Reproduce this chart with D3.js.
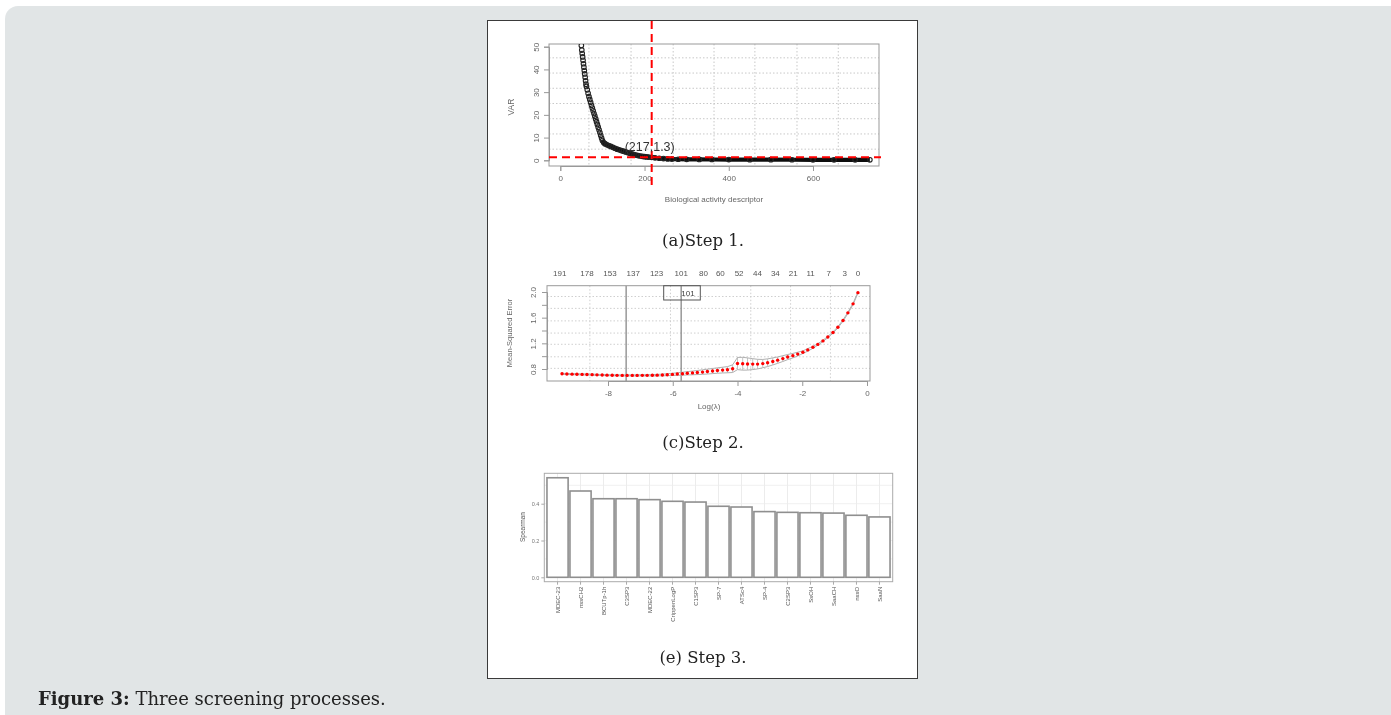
<!DOCTYPE html>
<html><head><meta charset="utf-8">
<script src="https://cdn.jsdelivr.net/npm/d3@7/dist/d3.min.js"></script>
<style>body{margin:0;background:#fff;}svg{display:block;}</style>
</head><body>
<svg id="chart" width="1391" height="715"></svg>
<script>
// ---------- Panel (a): VAR vs descriptor index ----------
const varIndex = [50,51,52,53,54,55,56,57,58,59,60,61,62,64,66,68,70,72,74,76,78,80,82,84,86,88,90,92,94,96,98,100,103,106,110,115,120,125,130,135,140,145,150,155,160,165,170,175,180,185,190,195,200,205,210,217,225,235,245,255,265,280,300,330,360,400,450,500,550,600,650,700,735];
const varValues = [50.5,48.5,47,45.5,44,42.5,41,39.5,38,36.5,35,33.5,32.5,31,29.5,28,26.8,25.5,24.2,23,21.8,20.6,19.4,18.2,17,15.8,14.6,13.4,12.2,11,9.8,8.7,7.8,7.3,6.9,6.5,6.1,5.7,5.3,4.9,4.6,4.3,4.0,3.7,3.4,3.1,2.8,2.55,2.3,2.1,1.9,1.75,1.6,1.5,1.4,1.3,1.1,0.9,0.75,0.62,0.55,0.47,0.42,0.38,0.35,0.32,0.29,0.27,0.25,0.23,0.21,0.2,0.19];
const varXTicks = [0,200,400,600];
const varYTicks = [0,10,20,30,40,50];
const varXGrid = [68,168,268,365,462,562,660];
const varYGrid = [4.9,11.6,18.3,25,31.7,38.4,45.1];
const cutIndex = 217, cutVar = 1.3;
const cutLabel = "(217,1.3)";

// ---------- Panel (c): cv.glmnet curve ----------
const logLambda = [-9.42,-9.27,-9.11,-8.96,-8.80,-8.65,-8.49,-8.34,-8.18,-8.03,-7.87,-7.72,-7.56,-7.41,-7.25,-7.10,-6.94,-6.79,-6.63,-6.48,-6.32,-6.17,-6.01,-5.86,-5.70,-5.55,-5.39,-5.24,-5.08,-4.93,-4.77,-4.62,-4.46,-4.31,-4.15,-4.00,-3.84,-3.69,-3.53,-3.38,-3.22,-3.07,-2.91,-2.76,-2.60,-2.45,-2.29,-2.14,-1.98,-1.83,-1.67,-1.52,-1.36,-1.21,-1.05,-0.90,-0.74,-0.59,-0.43,-0.28];
const mseValues = [0.725,0.722,0.720,0.718,0.716,0.714,0.712,0.709,0.706,0.704,0.702,0.701,0.700,0.700,0.700,0.700,0.701,0.701,0.702,0.704,0.707,0.711,0.716,0.721,0.727,0.733,0.739,0.745,0.752,0.760,0.768,0.776,0.783,0.789,0.805,0.885,0.882,0.878,0.876,0.876,0.884,0.898,0.918,0.938,0.962,0.986,1.008,1.032,1.062,1.098,1.138,1.183,1.238,1.298,1.368,1.45,1.555,1.675,1.815,1.99];
const mseSd = [0.008,0.008,0.008,0.008,0.008,0.008,0.008,0.008,0.008,0.008,0.008,0.008,0.008,0.008,0.008,0.009,0.009,0.010,0.011,0.012,0.013,0.015,0.018,0.020,0.023,0.026,0.029,0.032,0.035,0.038,0.040,0.042,0.045,0.048,0.060,0.095,0.10,0.095,0.085,0.075,0.065,0.06,0.055,0.05,0.045,0.04,0.035,0.03,0.02,0.02,0.015,0.012,0.01,0.01,0.01,0.01,0.01,0.01,0.01,0.01];
const nzLabels = ["191","178","153","137","123","101","80","60","52","44","34","21","11","7","3","0"];
const nzPositions = [-9.49,-8.65,-7.94,-7.22,-6.50,-5.74,-5.05,-4.53,-3.95,-3.38,-2.83,-2.28,-1.74,-1.18,-0.69,-0.28];
const mseXTicks = [-8,-6,-4,-2,0];
const mseYTicks = [0.8,1.0,1.2,1.4,1.6,1.8,2.0];
const mseYLabels = [0.8,1.2,1.6,2.0];
const mseXGrid = [-8.56,-6.07,-3.59,-2.36,-1.13];
const mseYGrid = [0.81,0.99,1.185,1.36,1.55,1.745,1.93];
const lambdaLines = [-7.44,-5.74];
const legendLabel = "101";

// ---------- Panel (e): Spearman bars ----------
const featureNames = ["MDEC-23","nssCH2","BCUTp-1h","C3SP3","MDEC-22","CrippenLogP","C1SP3","SP-7","ATSc4","SP-4","C2SP3","SsOH","SaaCH","nssO","SaaN"];
const spearmanValues = [0.541,0.469,0.427,0.427,0.422,0.413,0.409,0.386,0.382,0.357,0.353,0.351,0.349,0.337,0.328];
const spearmanTicks = [0.0,0.2,0.4];
const spearmanGrid = [0.1,0.3,0.5];

const captions = ["(a)Step 1.","(c)Step 2.","(e) Step 3."];

const svg = d3.select("#chart");
const defs = svg.append("defs");
defs.append("filter").attr("id","soft").append("feGaussianBlur").attr("stdDeviation",0.45);

// background panel
svg.append("rect").attr("x",5).attr("y",6).attr("width",1400).attr("height",730).attr("rx",13).attr("fill","#e1e5e6");
// white figure box
svg.append("rect").attr("x",487.5).attr("y",20.5).attr("width",430).attr("height",658).attr("fill","#fff").attr("stroke","#3a3a3a").attr("stroke-width",1);

const axisFont = "Liberation Sans, Arial, sans-serif";
const g = svg.append("g").attr("filter","url(#soft)");

// ===== Panel (a) =====
{
  const L=549,R=879,T=44,B=166;
  const x = d3.scaleLinear().domain([0,600]).range([560.3,813]);
  const y = d3.scaleLinear().domain([0,50]).range([160.3,46.7]);
  const p = g.append("g");
  defs.append("clipPath").attr("id","clipA").append("rect").attr("x",L).attr("y",T).attr("width",R-L).attr("height",B-T);
  // grid
  p.selectAll(".gx").data(varXGrid).join("line").attr("x1",d=>x(d)).attr("x2",d=>x(d)).attr("y1",T).attr("y2",B).attr("stroke","#c8c8c8").attr("stroke-dasharray","1.5,2");
  p.selectAll(".gy").data(varYGrid).join("line").attr("x1",L).attr("x2",R).attr("y1",d=>y(d)).attr("y2",d=>y(d)).attr("stroke","#c8c8c8").attr("stroke-dasharray","1.5,2");
  // box
  p.append("rect").attr("x",L).attr("y",T).attr("width",R-L).attr("height",B-T).attr("fill","none").attr("stroke","#999").attr("stroke-width",1);
  // axes
  const xa = p.append("g").attr("transform",`translate(0,${B})`).call(d3.axisBottom(x).tickValues(varXTicks).tickSize(5).tickPadding(4));
  const ya = p.append("g").attr("transform",`translate(${L},0)`).call(d3.axisLeft(y).tickValues(varYTicks).tickSize(5).tickPadding(3));
  [xa,ya].forEach(a=>{a.select(".domain").attr("stroke","#999");a.selectAll(".tick line").attr("stroke","#999");a.selectAll("text").attr("fill","#666").attr("font-size",8).attr("font-family",axisFont);});
  ya.selectAll(".tick text").attr("transform",function(){return "rotate(-90)";}).attr("text-anchor","middle").attr("x",0).attr("dy",0).attr("y",-10);
  p.append("text").attr("x",714).attr("y",202).attr("text-anchor","middle").attr("font-size",8).attr("fill","#666").attr("font-family",axisFont).text("Biological activity descriptor");
  p.append("text").attr("transform","translate(514,107) rotate(-90)").attr("text-anchor","middle").attr("font-size",8.5).attr("fill","#666").attr("font-family",axisFont).text("VAR");
  // data
  const data = varIndex.map((d,i)=>({x:d,v:varValues[i]}));
  const pc = p.append("g").attr("clip-path","url(#clipA)");
  pc.append("path").datum(data.filter(d=>d.x>=100)).attr("d",d3.line().x(d=>x(d.x)).y(d=>y(d.v))).attr("fill","none").attr("stroke","#111").attr("stroke-width",4.2).attr("stroke-linejoin","round");
  pc.selectAll("circle").data(data).join("circle").attr("cx",d=>x(d.x)).attr("cy",d=>y(d.v)).attr("r",2.3).attr("fill","none").attr("stroke","#222").attr("stroke-width",1.1);
  // cutoff lines
  p.append("line").attr("x1",L).attr("x2",R+2).attr("y1",y(cutVar)).attr("y2",y(cutVar)).attr("stroke","#f00").attr("stroke-width",2).attr("stroke-dasharray","8,5");
  p.append("line").attr("x1",x(cutIndex)).attr("x2",x(cutIndex)).attr("y1",21).attr("y2",186).attr("stroke","#f00").attr("stroke-width",2).attr("stroke-dasharray","8,5");
  p.append("text").attr("x",x(cutIndex)-27).attr("y",y(cutVar)-6).attr("font-size",12.5).attr("fill","#333").attr("font-family",axisFont).text(cutLabel);
}

// ===== Panel (c) =====
{
  const L=547,R=870,T=285.7,B=381;
  const x = d3.scaleLinear().domain([-8,0]).range([608,867]);
  const y = d3.scaleLinear().domain([0.8,2.0]).range([369,292]);
  const p = g.append("g");
  p.selectAll(".gx").data(mseXGrid).join("line").attr("x1",d=>x(d)).attr("x2",d=>x(d)).attr("y1",T).attr("y2",B).attr("stroke","#cfcfcf").attr("stroke-dasharray","1.5,2");
  p.selectAll(".gy").data(mseYGrid).join("line").attr("x1",L).attr("x2",R).attr("y1",d=>y(d)).attr("y2",d=>y(d)).attr("stroke","#cfcfcf").attr("stroke-dasharray","1.5,2");
  p.selectAll(".ll").data(lambdaLines).join("line").attr("x1",d=>x(d)).attr("x2",d=>x(d)).attr("y1",T).attr("y2",B).attr("stroke","#888").attr("stroke-width",1.3);
  p.append("rect").attr("x",L).attr("y",T).attr("width",R-L).attr("height",B-T).attr("fill","none").attr("stroke","#999");
  const xa = p.append("g").attr("transform",`translate(0,${B})`).call(d3.axisBottom(x).tickValues(mseXTicks).tickFormat(d3.format("d")).tickSize(5).tickPadding(4));
  const ya = p.append("g").attr("transform",`translate(${L},0)`).call(d3.axisLeft(y).tickValues(mseYTicks).tickSize(5).tickPadding(3).tickFormat(d=>mseYLabels.some(v=>Math.abs(v-d)<1e-6)?d3.format(".1f")(d):""));
  [xa,ya].forEach(a=>{a.select(".domain").attr("stroke","#999");a.selectAll(".tick line").attr("stroke","#999");a.selectAll("text").attr("fill","#666").attr("font-size",8).attr("font-family",axisFont);});
  xa.selectAll(".tick text").text(d=>d===0?"0":"-"+Math.abs(d));
  ya.selectAll(".tick text").attr("transform","rotate(-90)").attr("text-anchor","middle").attr("x",0).attr("dy",0).attr("y",-11);
  // top labels
  p.selectAll(".nz").data(nzPositions).join("text").attr("x",d=>x(d)).attr("y",276).attr("text-anchor","middle").attr("font-size",8).attr("fill","#555").attr("font-family",axisFont).text((d,i)=>nzLabels[i]);
  p.append("text").attr("x",709).attr("y",409).attr("text-anchor","middle").attr("font-size",8).attr("fill","#666").attr("font-family",axisFont).text("Log(λ)");
  p.append("text").attr("transform","translate(512,333) rotate(-90)").attr("text-anchor","middle").attr("font-size",7.5).attr("fill","#666").attr("font-family",axisFont).text("Mean-Squared Error");
  // error band
  const data = logLambda.map((d,i)=>({x:d,m:mseValues[i],s:mseSd[i]}));
  p.selectAll(".eb").data(data).join("line").attr("x1",d=>x(d.x)).attr("x2",d=>x(d.x)).attr("y1",d=>y(d.m-d.s)).attr("y2",d=>y(d.m+d.s)).attr("stroke","#c4c4c4").attr("stroke-width",1);
  p.append("path").datum(data).attr("d",d3.line().x(d=>x(d.x)).y(d=>y(d.m+d.s))).attr("fill","none").attr("stroke","#b0b0b0").attr("stroke-width",1);
  p.append("path").datum(data).attr("d",d3.line().x(d=>x(d.x)).y(d=>y(d.m-d.s))).attr("fill","none").attr("stroke","#b0b0b0").attr("stroke-width",1);
  p.selectAll(".pt").data(data).join("circle").attr("cx",d=>x(d.x)).attr("cy",d=>y(d.m)).attr("r",1.7).attr("fill","#f00");
  // legend box
  p.append("rect").attr("x",663.7).attr("y",T).attr("width",36.6).attr("height",14.3).attr("fill","none").attr("stroke","#555").attr("stroke-width",1);
  p.append("text").attr("x",688).attr("y",T+10.5).attr("text-anchor","middle").attr("font-size",8).attr("fill","#444").attr("font-family",axisFont).text(legendLabel);
}

// ===== Panel (e) =====
{
  const L=544.3,R=892.7,T=473.3,B=581.7;
  const x = d3.scaleBand().domain(featureNames).range([546.5,890.5]).paddingInner(0.08).paddingOuter(0.02);
  const y = d3.scaleLinear().domain([0,0.4]).range([577.3,503.7]);
  const p = g.append("g");
  p.selectAll(".gy").data(spearmanGrid.concat(spearmanTicks)).join("line").attr("x1",L).attr("x2",R).attr("y1",d=>y(d)).attr("y2",d=>y(d)).attr("stroke","#f0f0f0");
  p.selectAll(".gx").data(featureNames).join("line").attr("x1",d=>x(d)+x.bandwidth()/2).attr("x2",d=>x(d)+x.bandwidth()/2).attr("y1",T).attr("y2",B).attr("stroke","#ececec");
  p.append("rect").attr("x",L).attr("y",T).attr("width",R-L).attr("height",B-T).attr("fill","none").attr("stroke","#aaa");
  p.selectAll(".bar").data(featureNames).join("rect").attr("x",d=>x(d)).attr("width",x.bandwidth()).attr("y",(d,i)=>y(spearmanValues[i])).attr("height",(d,i)=>y(0)-y(spearmanValues[i])).attr("fill","#fff").attr("stroke","#8f8f8f").attr("stroke-width",1.6);
  const xa = p.append("g").attr("transform",`translate(0,${B})`).call(d3.axisBottom(x).tickSize(3).tickPadding(3));
  const ya = p.append("g").attr("transform",`translate(${L},0)`).call(d3.axisLeft(y).tickValues(spearmanTicks).tickFormat(d3.format(".1f")).tickSize(3).tickPadding(2));
  [xa,ya].forEach(a=>{a.select(".domain").remove();a.selectAll(".tick line").attr("stroke","#aaa");a.selectAll("text").attr("fill","#777").attr("font-size",5.5).attr("font-family",axisFont);});
  xa.selectAll(".tick text").attr("transform","rotate(-90)").attr("text-anchor","end").attr("x",-5).attr("y",0).attr("dy","0.35em").attr("fill","#555").attr("font-size",6);
  p.append("text").attr("transform","translate(525,527) rotate(-90)").attr("text-anchor","middle").attr("font-size",6.5).attr("fill","#555").attr("font-family",axisFont).text("Spearman");
}

// captions
const capY = [246,448,663];
svg.selectAll(".cap").data(captions).join("text").attr("x",703).attr("y",(d,i)=>capY[i]).attr("text-anchor","middle").attr("font-family","DejaVu Serif, serif").attr("font-size",16.5).attr("fill","#222").text(d=>d);

// figure caption
const fc = svg.append("text").attr("x",38).attr("y",705).attr("font-family","DejaVu Serif, serif").attr("font-size",18).attr("fill","#222");
fc.append("tspan").attr("font-weight","bold").text("Figure 3:");
fc.append("tspan").text(" Three screening processes.");
</script>
</body></html>
